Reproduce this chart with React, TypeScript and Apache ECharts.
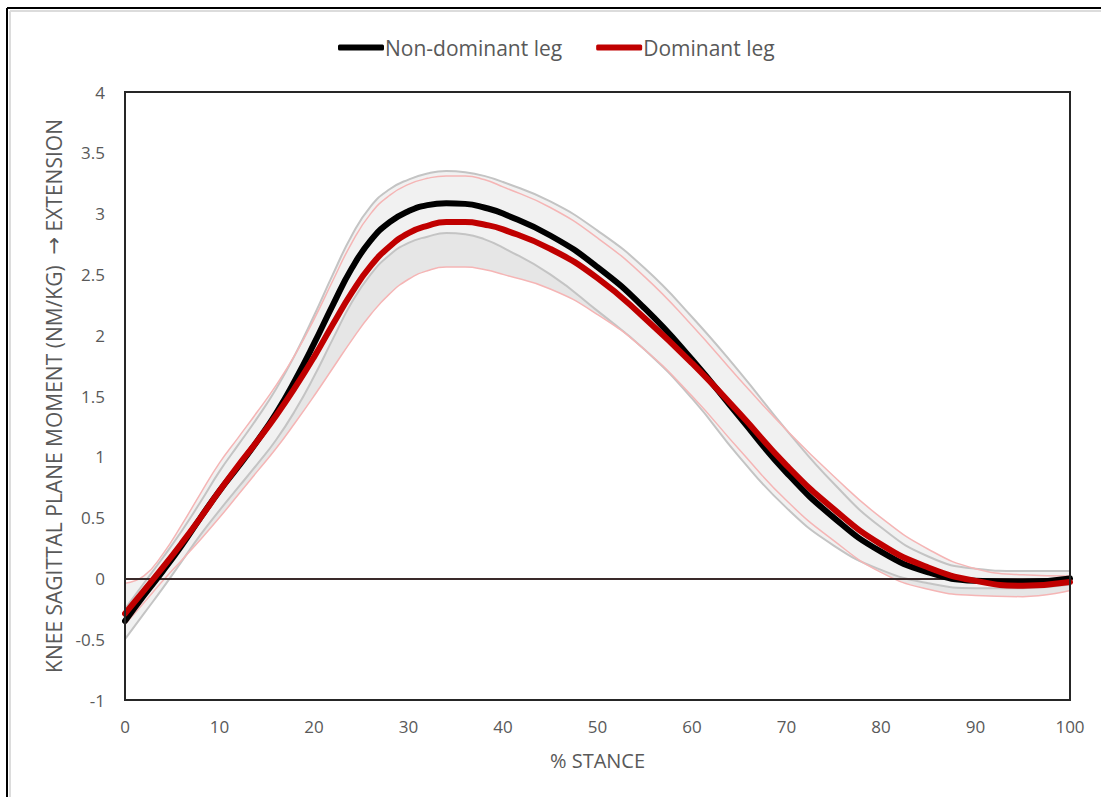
import React, { useEffect, useRef } from "react";
import * as echarts from "echarts";

const stance = [0, 2, 4, 6, 8, 10, 12, 14, 16, 18, 20, 22, 24, 26, 28, 30, 32, 34, 36, 38, 40, 45, 50, 55, 60, 65, 70, 75, 80, 85, 90, 95, 100];

const nonDominantMean = [-0.35, -0.14, 0.06, 0.27, 0.5, 0.72, 0.92, 1.13, 1.36, 1.63, 1.93, 2.25, 2.55, 2.78, 2.93, 3.02, 3.07, 3.085, 3.08, 3.05, 3.0, 2.82, 2.56, 2.22, 1.8, 1.33, 0.87, 0.5, 0.22, 0.05, -0.02, -0.03, 0.0];
const nonDominantUpper = [-0.25, -0.04, 0.17, 0.39, 0.63, 0.88, 1.1, 1.32, 1.56, 1.84, 2.16, 2.5, 2.82, 3.06, 3.2, 3.28, 3.33, 3.35, 3.34, 3.31, 3.26, 3.1, 2.86, 2.55, 2.15, 1.7, 1.22, 0.78, 0.42, 0.18, 0.08, 0.06, 0.06];
const nonDominantLower = [-0.5, -0.29, -0.08, 0.14, 0.36, 0.56, 0.75, 0.94, 1.14, 1.38, 1.66, 1.97, 2.27, 2.5, 2.66, 2.76, 2.81, 2.84, 2.83, 2.79, 2.72, 2.5, 2.2, 1.88, 1.48, 1.0, 0.58, 0.27, 0.07, -0.04, -0.08, -0.08, -0.05];

const dominantMean = [-0.29, -0.1, 0.09, 0.29, 0.5, 0.72, 0.93, 1.13, 1.34, 1.57, 1.82, 2.09, 2.35, 2.57, 2.73, 2.84, 2.9, 2.93, 2.93, 2.91, 2.87, 2.71, 2.47, 2.14, 1.77, 1.36, 0.93, 0.57, 0.28, 0.09, -0.02, -0.06, -0.03];
const dominantUpper = [-0.04, 0.02, 0.2, 0.44, 0.7, 0.95, 1.16, 1.37, 1.59, 1.84, 2.13, 2.45, 2.76, 3.0, 3.15, 3.24, 3.29, 3.31, 3.31, 3.28, 3.22, 3.05, 2.8, 2.48, 2.08, 1.64, 1.22, 0.84, 0.5, 0.24, 0.08, 0.03, 0.02];
const dominantLower = [-0.38, -0.2, -0.02, 0.15, 0.32, 0.5, 0.69, 0.88, 1.07, 1.28, 1.5, 1.73, 1.96, 2.17, 2.34, 2.46, 2.53, 2.56, 2.56, 2.54, 2.5, 2.38, 2.17, 1.88, 1.5, 1.06, 0.64, 0.31, 0.05, -0.09, -0.14, -0.15, -0.1];

const xTicks = { min: 0, max: 100, interval: 10 };
const yTicks = { min: -1, max: 4, interval: 0.5 };

const pairs = (ys: number[]) => stance.map((x, i) => [x, ys[i]]);
const minPairs = (a: number[], b: number[]) => stance.map((x, i) => [x, Math.min(a[i], b[i])]);

const FONT = "'Open Sans', 'Noto Sans', sans-serif";
const TXT = "#595959";

const GRID = { left: 125, right: 31, top: 92, bottom: 97 };

export default function App() {
  const ref = useRef<HTMLDivElement>(null);
  useEffect(() => {
    document.body.style.margin = "0";
    const chart = echarts.init(ref.current!, null, { renderer: "svg" });
    const fill = (data: number[][], color: string) => ({
      type: "line",
      smooth: true,
      showSymbol: false,
      silent: true,
      data,
      lineStyle: { opacity: 0, width: 0 },
      areaStyle: { color, opacity: 1, origin: "start" },
      z: 1,
    });
    const bound = (data: number[][], color: string, width: number) => ({
      type: "line",
      smooth: true,
      showSymbol: false,
      silent: true,
      data,
      lineStyle: { color, width },
      z: 3,
    });
    chart.setOption({
      animation: false,
      backgroundColor: "#ffffff",
      textStyle: { fontFamily: FONT },
      legend: {
        data: ["Non-dominant leg", "Dominant leg"],
        top: 32,
        left: 333,
        itemWidth: 46,
        itemHeight: 6,
        itemGap: 34,
        icon: "roundRect",
        textStyle: { color: TXT, fontSize: 21, fontFamily: FONT, padding: [0, 0, 0, -4] },
      },
      grid: { ...GRID, show: false },
      xAxis: {
        type: "value",
        min: xTicks.min,
        max: xTicks.max,
        interval: xTicks.interval,
        name: "% STANCE",
        nameLocation: "middle",
        nameGap: 50,
        nameTextStyle: { color: TXT, fontSize: 20, fontFamily: FONT },
        axisLine: { show: false, onZero: false },
        axisTick: { show: false },
        splitLine: { show: false },
        axisLabel: { color: TXT, fontSize: 17, margin: 18, fontFamily: FONT },
      },
      yAxis: {
        type: "value",
        min: yTicks.min,
        max: yTicks.max,
        interval: yTicks.interval,
        name: "KNEE SAGITTAL PLANE MOMENT (NM/KG)  {a|\u2192} EXTENSION",
        nameLocation: "middle",
        nameGap: 60,
        nameTextStyle: {
          color: TXT,
          fontSize: 21,
          fontFamily: FONT,
          rich: { a: { color: TXT, fontSize: 21, fontFamily: "'DejaVu Sans', sans-serif" } },
        },
        axisLine: { show: false },
        axisTick: { show: false },
        splitLine: { show: false },
        axisLabel: { color: TXT, fontSize: 17, margin: 20, fontFamily: FONT },
      },
      graphic: [
        { type: "line", shape: { x1: 7, y1: 8, x2: 1101, y2: 8 }, style: { stroke: "#000", lineWidth: 2 } },
        { type: "line", shape: { x1: 7, y1: 8, x2: 7, y2: 797 }, style: { stroke: "#000", lineWidth: 2 } },
        { type: "line", shape: { x1: 10, y1: 11, x2: 1101, y2: 11 }, style: { stroke: "#dcdcdc", lineWidth: 2 } },
        { type: "line", shape: { x1: 10, y1: 11, x2: 10, y2: 797 }, style: { stroke: "#dcdcdc", lineWidth: 2 } },
        {
          type: "rect",
          z: 100,
          shape: { x: GRID.left, y: GRID.top, width: 1101 - GRID.left - GRID.right, height: 797 - GRID.top - GRID.bottom },
          style: { fill: "none", stroke: "#262626", lineWidth: 2 },
        },
      ],
      series: [
        fill(pairs(nonDominantUpper), "#f1f1f1"),
        fill(pairs(dominantUpper), "#f1f1f1"),
        fill(pairs(nonDominantLower), "#e6e6e6"),
        fill(minPairs(nonDominantLower, dominantLower), "#ffffff"),
        bound(pairs(nonDominantUpper), "#c4c4c4", 2),
        bound(pairs(nonDominantLower), "#c4c4c4", 2),
        bound(pairs(dominantUpper), "#f5b5b5", 1.5),
        bound(pairs(dominantLower), "#f5b5b5", 1.5),
        {
          type: "line",
          name: "zero",
          silent: true,
          showSymbol: false,
          data: [],
          markLine: {
            silent: true,
            symbol: "none",
            label: { show: false },
            lineStyle: { color: "#3a2a2a", width: 2, type: "solid" },
            data: [{ yAxis: 0 }],
          },
          z: 4,
        },
        {
          type: "line",
          name: "Non-dominant leg",
          smooth: true,
          showSymbol: false,
          data: pairs(nonDominantMean),
          color: "#000000",
          lineStyle: { color: "#000000", width: 6, cap: "round" },
          z: 5,
        },
        {
          type: "line",
          name: "Dominant leg",
          smooth: true,
          showSymbol: false,
          data: pairs(dominantMean),
          color: "#c00000",
          lineStyle: { color: "#c00000", width: 6, cap: "round" },
          z: 6,
        },
      ],
    });
    return () => chart.dispose();
  }, []);
  return <div ref={ref} style={{ width: 1101, height: 797 }} />;
}
